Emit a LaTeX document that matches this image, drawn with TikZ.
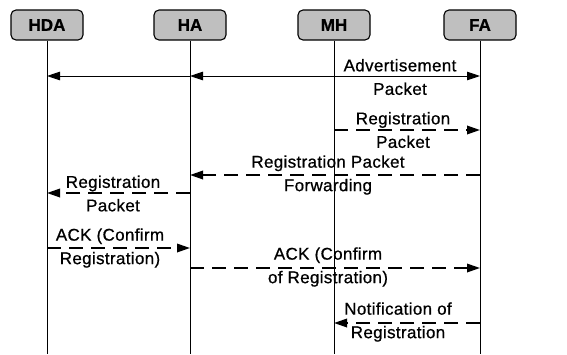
\documentclass[tikz,border=0pt]{standalone}
\usepackage{fontspec}
\setmainfont{Liberation Sans}[LetterSpace=2.0]
\newfontfamily\lblfont{Liberation Sans}[LetterSpace=2.0,FakeBold=0.7]
\newfontfamily\boxfont{Liberation Sans Bold}[FakeBold=0.8]
\usetikzlibrary{arrows.meta}
\begin{document}
\begin{tikzpicture}[x=1pt,y=-1pt,
  entity/.style={draw=black,line width=1.1pt,fill=black!25,rounded corners=5pt,
    minimum width=72pt,minimum height=30pt,inner sep=0pt,
    font=\boxfont\fontsize{17}{19}\selectfont},
  lifeline/.style={line width=0.7pt},
  tip/.style={-{Triangle[length=13pt,width=8.5pt]}},
  msg/.style={tip,line width=1.8pt,dash pattern=on 14pt off 8pt},
  solidmsg/.style={tip,line width=0.9pt},
  lbl/.style={align=center,inner sep=0pt,font=\lblfont\fontsize{17}{23.5}\selectfont}]
\useasboundingbox (0,0) rectangle (567,354);
% entities
\node[entity] (hda) at (47,25) {HDA};
\node[entity] (ha) at (190,25) {HA};
\node[entity] (mh) at (334,25) {MH};
\node[entity] (fa) at (480,25) {FA};
% lifeline ends
\coordinate (hdab) at (47,354);
\coordinate (hab) at (190,354);
\coordinate (mhb) at (334,354);
\coordinate (fab) at (480,354);
\draw[lifeline] (hda.south) -- (hdab);
\draw[lifeline] (ha.south) -- (hab);
\draw[lifeline] (mh.south) -- (mhb);
\draw[lifeline] (fa.south) -- (fab);
% message points
\coordinate (hda1) at (47,76);  \coordinate (ha1) at (190,76);
\coordinate (mh1) at (334,76);  \coordinate (fa1) at (480,76);
\coordinate (mh2) at (334,130); \coordinate (fa2) at (480,130);
\coordinate (fa3) at (480,175); \coordinate (ha3) at (190,175);
\coordinate (ha4) at (190,193); \coordinate (hda4) at (47,193);
\coordinate (hda5) at (47,248); \coordinate (ha5) at (190,248);
\coordinate (ha6) at (190,268); \coordinate (fa6) at (480,268);
\coordinate (fa7) at (480,323); \coordinate (mh7) at (334,323);
% messages
\draw[solidmsg] (mh1) -- (ha1);
\draw[solidmsg] (ha1) -- (hda1);
\draw[solidmsg] (mh1) -- (fa1);
\draw[msg] (mh2) -- (fa2);
\draw[msg] (fa3) -- (ha3);
\draw[msg] (ha4) -- (hda4);
\draw[msg] (hda5) -- (ha5);
\draw[msg] (ha6) -- (fa6);
\draw[msg] (fa7) -- (mh7);
% labels
\node[lbl] (l1) at (400,77) {Advertisement\\Packet};
\node[lbl] (l2) at (403,130) {Registration\\Packet};
\node[lbl] (l3) at (328,175) {Registration Packet\\Forwarding};
\node[lbl] (l4) at (113,193.5) {Registration\\Packet};
\node[lbl] (l5) at (110,248) {ACK (Confirm\\Registration)};
\node[lbl] (l6) at (328,267) {ACK (Confirm\\of Registration)};
\node[lbl] (l7) at (398,322) {Notification of\\Registration};
\end{tikzpicture}
\end{document}
